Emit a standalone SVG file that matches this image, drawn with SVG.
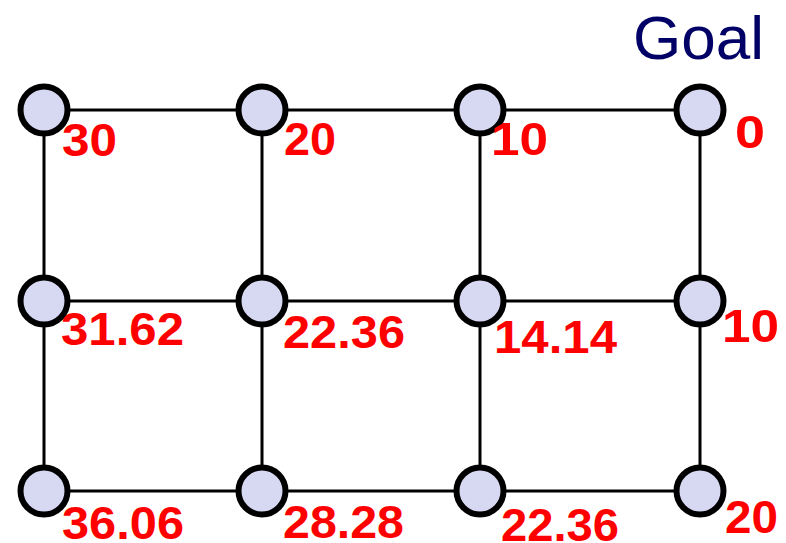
<svg xmlns="http://www.w3.org/2000/svg" width="786" height="543" viewBox="0 0 786 543">
<style>
.edge{stroke:#000;stroke-width:3;fill:none}
.node{fill:#d7d8f2;stroke:#000;stroke-width:6}
.lbl{font-family:"Liberation Sans",Arial,sans-serif;font-weight:bold;font-size:46px;fill:#ff0000}
.goal{font-family:"Liberation Sans",Arial,sans-serif;font-size:62px;fill:#000066}
</style>
<rect width="786" height="543" fill="#fff"/>
<g id="connectors">
<line class="edge" x1="44" y1="110" x2="700" y2="110"/>
<line class="edge" x1="44" y1="301" x2="700" y2="301"/>
<line class="edge" x1="44" y1="491" x2="700" y2="491"/>
<line class="edge" x1="44" y1="110" x2="44" y2="491"/>
<line class="edge" x1="262" y1="110" x2="262" y2="491"/>
<line class="edge" x1="480" y1="110" x2="480" y2="491"/>
<line class="edge" x1="700" y1="110" x2="700" y2="491"/>
</g>
<text class="goal" x="633" y="59">Goal</text>
<g id="n00"><circle class="node" cx="44" cy="110" r="23.5"/><text class="lbl" x="62" y="156" textLength="55" lengthAdjust="spacingAndGlyphs">30</text></g>
<g id="n01"><circle class="node" cx="262" cy="110" r="23.5"/><text class="lbl" x="284" y="155" textLength="52" lengthAdjust="spacingAndGlyphs">20</text></g>
<g id="n02"><circle class="node" cx="480" cy="110" r="23.5"/><text class="lbl" x="491" y="155" textLength="57" lengthAdjust="spacingAndGlyphs">10</text></g>
<g id="n03"><circle class="node" cx="700" cy="110" r="23.5"/><text class="lbl" x="735" y="148" textLength="30" lengthAdjust="spacingAndGlyphs">0</text></g>
<g id="n10"><circle class="node" cx="44" cy="301" r="23.5"/><text class="lbl" x="61" y="345" textLength="123" lengthAdjust="spacingAndGlyphs">31.62</text></g>
<g id="n11"><circle class="node" cx="262" cy="301" r="23.5"/><text class="lbl" x="283" y="348" textLength="122" lengthAdjust="spacingAndGlyphs">22.36</text></g>
<g id="n12"><circle class="node" cx="480" cy="301" r="23.5"/><text class="lbl" x="494" y="353" textLength="123" lengthAdjust="spacingAndGlyphs">14.14</text></g>
<g id="n13"><circle class="node" cx="700" cy="301" r="23.5"/><text class="lbl" x="722" y="342" textLength="57" lengthAdjust="spacingAndGlyphs">10</text></g>
<g id="n20"><circle class="node" cx="44" cy="491" r="23.5"/><text class="lbl" x="62" y="539" textLength="122" lengthAdjust="spacingAndGlyphs">36.06</text></g>
<g id="n21"><circle class="node" cx="262" cy="491" r="23.5"/><text class="lbl" x="283" y="538" textLength="121" lengthAdjust="spacingAndGlyphs">28.28</text></g>
<g id="n22"><circle class="node" cx="480" cy="491" r="23.5"/><text class="lbl" x="501" y="541" textLength="118" lengthAdjust="spacingAndGlyphs">22.36</text></g>
<g id="n23"><circle class="node" cx="700" cy="491" r="23.5"/><text class="lbl" x="725" y="533" textLength="53" lengthAdjust="spacingAndGlyphs">20</text></g>
</svg>
